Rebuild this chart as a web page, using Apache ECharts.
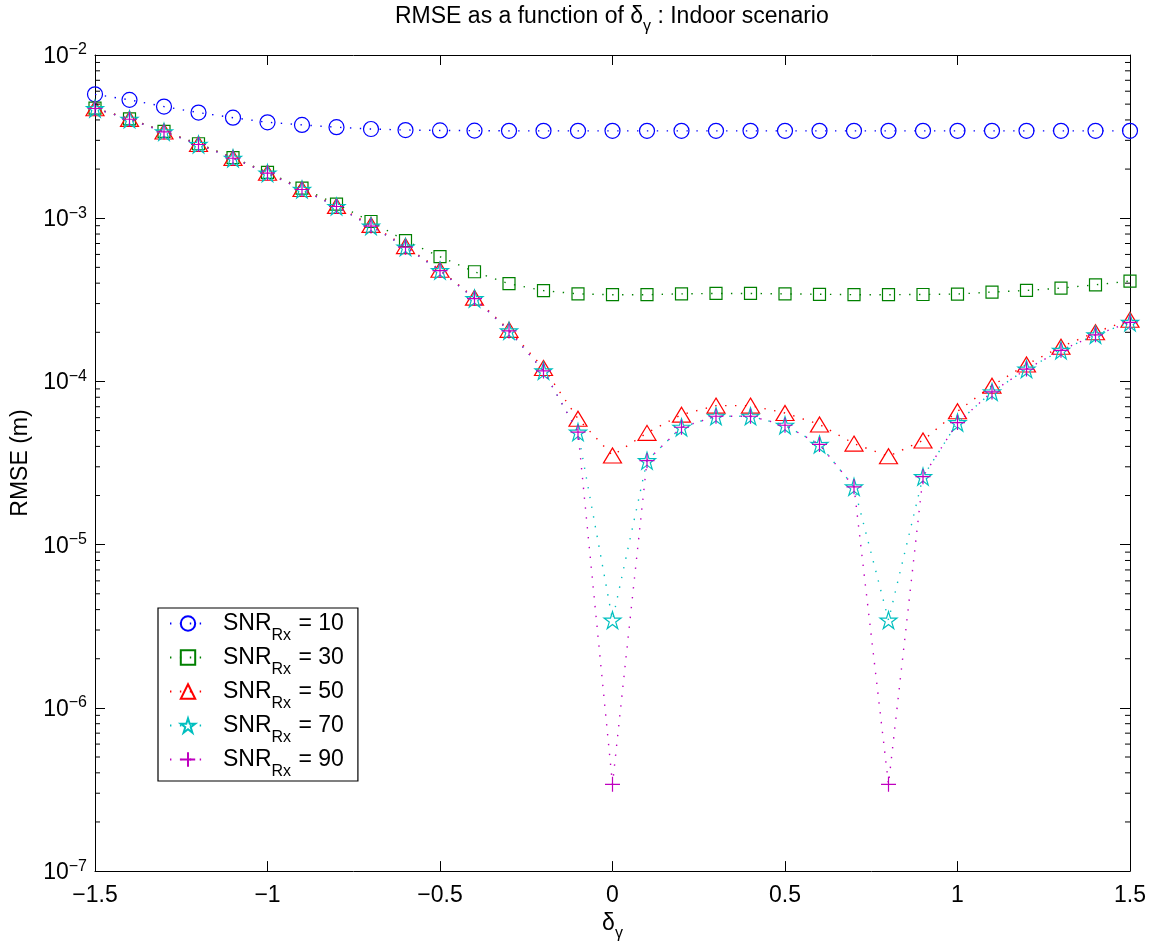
<!DOCTYPE html>
<html>
<head>
<meta charset="utf-8">
<script src="https://cdn.jsdelivr.net/npm/echarts@6/dist/echarts.min.js"></script>
<style>
html,body{margin:0;padding:0;background:#fff;}
#chart{width:1161px;height:947px;}
</style>
</head>
<body>
<div id="chart"></div>
<script>
// ---- data ----
const deltaGamma = [-1.5,-1.4,-1.3,-1.2,-1.1,-1.0,-0.9,-0.8,-0.7,-0.6,-0.5,-0.4,-0.3,-0.2,-0.1,0,0.1,0.2,0.3,0.4,0.5,0.6,0.7,0.8,0.9,1.0,1.1,1.2,1.3,1.4,1.5];
const snr10 = [5.74e-3,5.31e-3,4.83e-3,4.44e-3,4.13e-3,3.87e-3,3.73e-3,3.61e-3,3.52e-3,3.47e-3,3.45e-3,3.44e-3,3.43e-3,3.43e-3,3.43e-3,3.43e-3,3.43e-3,3.43e-3,3.43e-3,3.43e-3,3.43e-3,3.43e-3,3.43e-3,3.43e-3,3.43e-3,3.43e-3,3.43e-3,3.43e-3,3.43e-3,3.43e-3,3.43e-3];
const snr30 = [4.72e-3,4.06e-3,3.40e-3,2.86e-3,2.35e-3,1.91e-3,1.53e-3,1.22e-3,9.55e-4,7.28e-4,5.81e-4,4.70e-4,3.97e-4,3.60e-4,3.44e-4,3.40e-4,3.40e-4,3.44e-4,3.46e-4,3.46e-4,3.44e-4,3.42e-4,3.40e-4,3.40e-4,3.41e-4,3.43e-4,3.53e-4,3.61e-4,3.73e-4,3.91e-4,4.12e-4];
const snr50 = [4.72e-3,4.06e-3,3.40e-3,2.85e-3,2.34e-3,1.90e-3,1.51e-3,1.19e-3,9.10e-4,6.75e-4,4.83e-4,3.26e-4,2.07e-4,1.21e-4,5.91e-5,3.52e-5,4.84e-5,6.26e-5,7.11e-5,7.11e-5,6.41e-5,5.45e-5,4.16e-5,3.48e-5,4.35e-5,6.56e-5,9.41e-5,1.27e-4,1.63e-4,2.00e-4,2.39e-4];
const snr70 = [4.70e-3,4.04e-3,3.38e-3,2.83e-3,2.33e-3,1.89e-3,1.50e-3,1.18e-3,8.95e-4,6.65e-4,4.78e-4,3.22e-4,2.04e-4,1.16e-4,4.89e-5,3.45e-6,3.27e-5,5.24e-5,6.12e-5,6.12e-5,5.39e-5,4.11e-5,2.26e-5,3.45e-6,2.61e-5,5.60e-5,8.62e-5,1.19e-4,1.55e-4,1.93e-4,2.30e-4];
const snr90 = [4.70e-3,4.04e-3,3.38e-3,2.83e-3,2.33e-3,1.89e-3,1.50e-3,1.18e-3,8.95e-4,6.65e-4,4.78e-4,3.22e-4,2.04e-4,1.16e-4,4.89e-5,3.40e-7,3.27e-5,5.24e-5,6.12e-5,6.12e-5,5.39e-5,4.11e-5,2.26e-5,3.40e-7,2.61e-5,5.60e-5,8.62e-5,1.19e-4,1.55e-4,1.93e-4,2.30e-4];
const snrLevels = ['10','30','50','70','90'];
const xTickLabels = ['−1.5','−1','−0.5','0','0.5','1','1.5'];
const yDecades = [-7,-6,-5,-4,-3,-2];

// ---- styling ----
const FONT = 'Liberation Sans, Arial, Helvetica, sans-serif';
const STAR = 'path://M50,0 L61.17,34.63 L97.55,34.55 L68.07,55.87 L79.39,90.45 L50,69 L20.61,90.45 L31.93,55.87 L2.45,34.55 L38.83,34.63 Z';
const PLUS = 'path://M0,50 L100,50 M50,0 L50,100';
const colors = ['#0000ff','#008000','#ff0000','#00bfbf','#bf00bf'];
const symbols = ['circle','rect','triangle',STAR,PLUS];
const sizes = [15,12,[18,15],17,15];
const seriesValues = [snr10, snr30, snr50, snr70, snr90];

// minor tick values for the log axis (2..9 × each decade)
const minorTicks = [];
for (let d = -7; d < -2; d++) for (let k = 2; k <= 9; k++) minorTicks.push([0, k * Math.pow(10, d)]);

const chart = echarts.init(document.getElementById('chart'), null, {renderer: 'canvas'});

const lineSeries = seriesValues.map((vals, i) => ({
  name: 'SNR' + snrLevels[i],
  type: 'line',
  data: deltaGamma.map((x, j) => [x, vals[j]]),
  symbol: symbols[i],
  symbolSize: sizes[i],
  showSymbol: true,
  showAllSymbol: true,
  lineStyle: {color: colors[i], width: 1.4, type: [1.4, 8.5]},
  itemStyle: {color: 'rgba(0,0,0,0)', borderColor: colors[i], borderWidth: 1.2},
  emphasis: {disabled: true},
  silent: true,
  z: 2 + i
}));

const tickSeries = {
  name: 'minorTicks',
  type: 'custom',
  silent: true,
  z: 20,
  data: minorTicks,
  renderItem: function (params, api) {
    const v = api.value(1);
    const pl = api.coord([-1.5, v]);
    const pr = api.coord([1.5, v]);
    return {type: 'group', children: [
      {type: 'line', shape: {x1: pl[0], y1: pl[1], x2: pl[0] + 5, y2: pl[1]}, style: {stroke: '#000', lineWidth: 1}},
      {type: 'line', shape: {x1: pr[0] - 5, y1: pr[1], x2: pr[0], y2: pr[1]}, style: {stroke: '#000', lineWidth: 1}}
    ]};
  }
};

const yLabelFmt = function (v) {
  const e = Math.round(Math.log10(v));
  if (yDecades.indexOf(e) < 0) return '';
  return '{b|10}{s|' + String(e).replace('-', '−') + '}';
};
const xLabelFmt = function (v) {
  const idx = Math.round((v + 1.5) / 0.5);
  return xTickLabels[idx] !== undefined ? xTickLabels[idx] : '';
};

const axisLineStyle = {show: true, onZero: false, lineStyle: {color: '#000', width: 1}};

const option = {
  animation: false,
  backgroundColor: '#fff',
  textStyle: {fontFamily: FONT},
  title: {
    text: 'RMSE as a function of {m|δ}{s|γ} : Indoor scenario',
    left: 395,
    top: 5,
    padding: 0,
    textStyle: {
      fontFamily: FONT, fontSize: 23, fontWeight: 'normal', color: '#000',
      rich: {
        m: {fontFamily: FONT, fontSize: 23, lineHeight: 24, verticalAlign: 'top', color: '#000'},
        s: {fontFamily: FONT, fontSize: 16, lineHeight: 16, padding: [14, 0, 0, 0], verticalAlign: 'top', color: '#000'}
      }
    }
  },
  grid: {left: 95, right: 31, top: 55, bottom: 75, containLabel: false},
  legend: {
    orient: 'vertical',
    left: 158,
    top: 608,
    data: lineSeries.map(s => s.name),
    selectedMode: false,
    backgroundColor: '#fff',
    borderColor: '#000',
    borderWidth: 1.2,
    padding: [4, 14, 1, 11],
    itemGap: 2,
    itemWidth: 36,
    itemHeight: 18,
    formatter: function (name) {
      return '{p|SNR}{s|Rx}{m| = ' + name.replace('SNR', '') + '}';
    },
    textStyle: {
      fontFamily: FONT, fontSize: 23, color: '#000',
      rich: {
        p: {fontFamily: FONT, fontSize: 23, lineHeight: 23, verticalAlign: 'top', color: '#000', padding: [0, 0, 0, 12]},
        m: {fontFamily: FONT, fontSize: 23, lineHeight: 23, verticalAlign: 'top', color: '#000'},
        s: {fontFamily: FONT, fontSize: 16, lineHeight: 16, padding: [16, 1, 0, 0], verticalAlign: 'top', color: '#000'}
      }
    }
  },
  xAxis: [{
    type: 'value', min: -1.5, max: 1.5, interval: 0.5, position: 'bottom',
    axisLine: axisLineStyle,
    axisTick: {show: true, inside: true, length: 10, lineStyle: {color: '#000'}},
    axisLabel: {formatter: xLabelFmt, fontSize: 23, color: '#000', fontFamily: FONT, margin: 13},
    splitLine: {show: false},
    name: '{m|δ}{s|γ}',
    nameLocation: 'middle',
    nameGap: 35,
    nameTextStyle: {
      fontFamily: FONT, fontSize: 23, color: '#000',
      rich: {
        m: {fontFamily: FONT, fontSize: 23, lineHeight: 24, verticalAlign: 'top', color: '#000'},
        s: {fontFamily: FONT, fontSize: 16, lineHeight: 16, padding: [14, 0, 0, 0], verticalAlign: 'top', color: '#000'}
      }
    }
  }, {
    type: 'value', min: -1.5, max: 1.5, interval: 0.5, position: 'top',
    axisLine: axisLineStyle,
    axisTick: {show: true, inside: true, length: 10, lineStyle: {color: '#000'}},
    axisLabel: {show: false},
    splitLine: {show: false}
  }],
  yAxis: [{
    type: 'log', min: 1e-7, max: 1e-2, logBase: 10, splitNumber: 5, position: 'left',
    axisLine: axisLineStyle,
    axisTick: {show: true, inside: true, length: 10, lineStyle: {color: '#000'}},
    axisLabel: {
      formatter: yLabelFmt, color: '#000', margin: 8, fontFamily: FONT,
      rich: {
        b: {fontFamily: FONT, fontSize: 23, lineHeight: 26, verticalAlign: 'bottom', color: '#000'},
        s: {fontFamily: FONT, fontSize: 16, lineHeight: 16, verticalAlign: 'top', color: '#000'}
      }
    },
    splitLine: {show: false},
    minorTick: {show: false},
    name: 'RMSE (m)',
    nameLocation: 'middle',
    nameRotate: 90,
    nameGap: 58,
    nameTextStyle: {fontFamily: FONT, fontSize: 23, color: '#000'}
  }, {
    type: 'log', min: 1e-7, max: 1e-2, logBase: 10, splitNumber: 5, position: 'right',
    axisLine: axisLineStyle,
    axisTick: {show: true, inside: true, length: 10, lineStyle: {color: '#000'}},
    axisLabel: {show: false},
    splitLine: {show: false}
  }],
  series: lineSeries.concat([tickSeries])
};

chart.setOption(option);
</script>
</body>
</html>
